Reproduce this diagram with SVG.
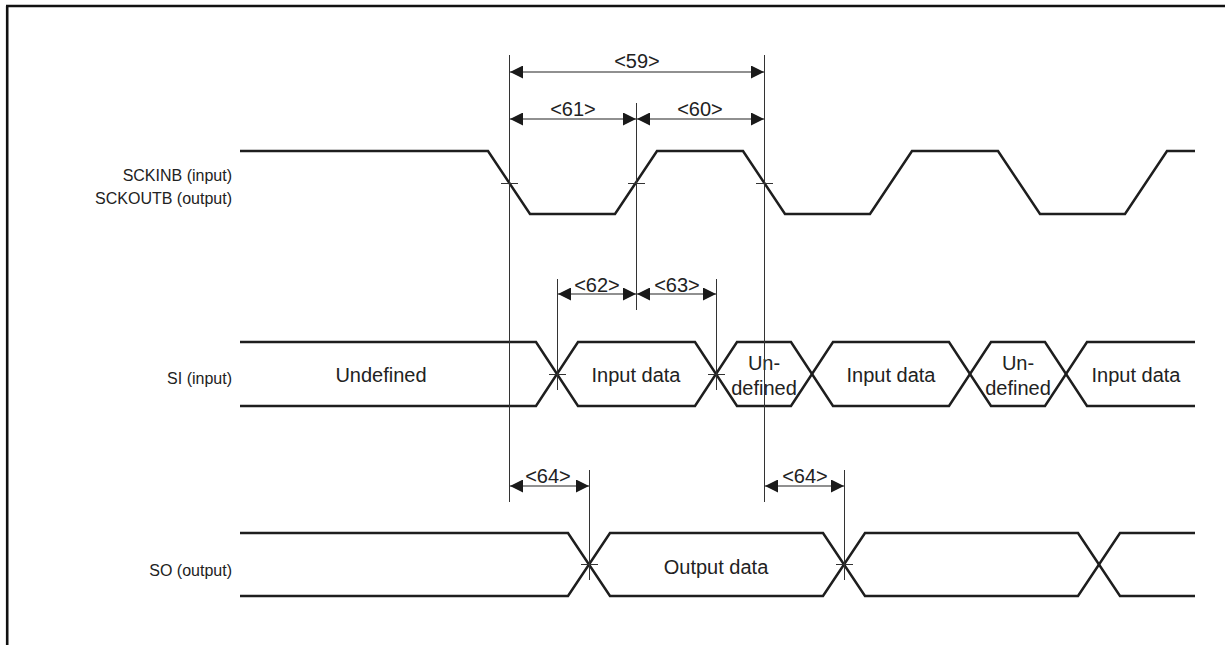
<svg xmlns="http://www.w3.org/2000/svg" width="1225" height="645" viewBox="0 0 1225 645">
<defs>
<marker id="ah" viewBox="0 0 13 13" refX="13" refY="6.5" markerWidth="13" markerHeight="13" markerUnits="userSpaceOnUse" orient="auto-start-reverse">
<path d="M0,0 L13,6.5 L0,13 Z" fill="#1a1a1a"/>
</marker>
</defs>
<style>
.sig{fill:none;stroke:#1e1e1e;stroke-width:2.5;stroke-linejoin:miter}
.ext{fill:none;stroke:#333;stroke-width:1}
.tick{fill:none;stroke:#333;stroke-width:1}
.dim{fill:none;stroke:#222;stroke-width:1.2;marker-start:url(#ah);marker-end:url(#ah)}
text{font-family:"Liberation Sans",Arial,sans-serif;font-size:20px;fill:#222}
.lbl{text-anchor:end;font-size:16px}
.mid{text-anchor:middle}
</style>
<rect width="1225" height="645" fill="#fff"/>
<g id="frame">
<path d="M6,6 H1225 M7.2,6 V645" fill="none" stroke="#111" stroke-width="2.6"/>
</g>
<g id="labels">
<text class="lbl" x="232" y="181">SCKINB (input)</text>
<text class="lbl" x="232" y="204">SCKOUTB (output)</text>
<text class="lbl" x="232" y="384">SI (input)</text>
<text class="lbl" x="232" y="576">SO (output)</text>
</g>
<g id="sck">
<path class="sig" d="M240,151 H488 L530,214 H615 L657,151 H743 L785,214 H870 L912,151 H998 L1040,214 H1125 L1167,151 H1195"/>
</g>
<g id="si">
<path class="sig" d="M240,342 H536 L578,406 H695 L737,342 H791 L833,406 H949 L991,342 H1045 L1087,406 H1195"/>
<path class="sig" d="M240,406 H536 L578,342 H695 L737,406 H791 L833,342 H949 L991,406 H1045 L1087,342 H1195"/>
<text class="mid" x="381" y="382">Undefined</text>
<text class="mid" x="636" y="382">Input data</text>
<text class="mid" x="764" y="370">Un-</text>
<text class="mid" x="764" y="395">defined</text>
<text class="mid" x="891" y="382">Input data</text>
<text class="mid" x="1018" y="370">Un-</text>
<text class="mid" x="1018" y="395">defined</text>
<text class="mid" x="1136" y="382">Input data</text>
</g>
<g id="so">
<path class="sig" d="M240,533 H568 L610,596 H823 L865,533 H1078 L1120,596 H1195"/>
<path class="sig" d="M240,596 H568 L610,533 H823 L865,596 H1078 L1120,533 H1195"/>
<text class="mid" x="716" y="574">Output data</text>
</g>
<g id="connectors">
<path class="ext" d="M509.5,55 V502 M764.5,55 V502 M636.5,103 V310 M557.5,279 V390 M716.5,279 V390 M589.5,470 V580 M844.5,470 V580"/>
<path class="tick" d="M501,183.5 H518 M628,183.5 H645 M756,183.5 H773 M549,374.5 H566 M708,374.5 H725 M581,564.5 H598 M836,564.5 H853"/>
<path class="dim" d="M510,72 H764"/>
<path class="dim" d="M510,119 H636"/>
<path class="dim" d="M637,119 H764"/>
<path class="dim" d="M558,294 H636"/>
<path class="dim" d="M637,294 H716"/>
<path class="dim" d="M510,486 H589"/>
<path class="dim" d="M765,486 H844"/>
<text class="mid" x="637" y="68">&lt;59&gt;</text>
<text class="mid" x="573" y="116">&lt;61&gt;</text>
<text class="mid" x="700" y="116">&lt;60&gt;</text>
<text class="mid" x="597" y="292">&lt;62&gt;</text>
<text class="mid" x="677" y="292">&lt;63&gt;</text>
<text class="mid" x="548" y="483">&lt;64&gt;</text>
<text class="mid" x="805" y="483">&lt;64&gt;</text>
</g>
</svg>
